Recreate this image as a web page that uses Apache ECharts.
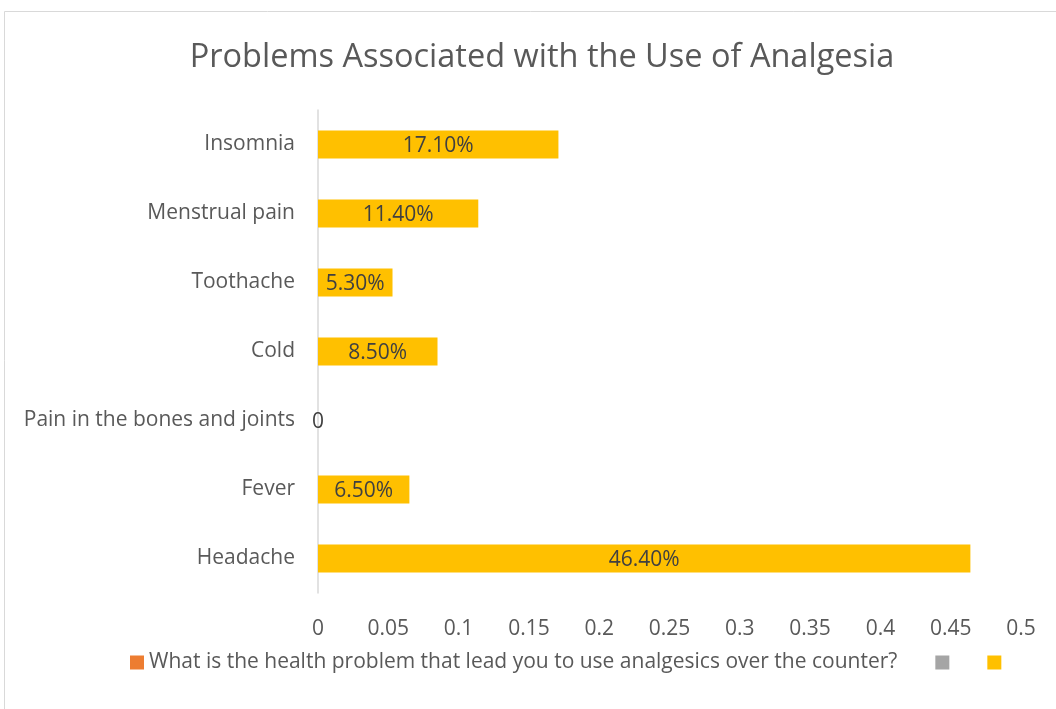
<!DOCTYPE html>
<html>
<head>
<meta charset="utf-8">
<script src="https://cdn.jsdelivr.net/npm/echarts@6/dist/echarts.min.js"></script>
<style>
html,body{margin:0;padding:0;background:#fff;}
#chart{width:1056px;height:709px;}
</style>
</head>
<body>
<div id="chart"></div>
<script>
const categories = ['Headache', 'Fever', 'Pain in the bones and joints', 'Cold', 'Toothache', 'Menstrual pain', 'Insomnia'];
const values = [0.464, 0.065, 0, 0.085, 0.053, 0.114, 0.171];
const xTicks = [0, 0.05, 0.1, 0.15, 0.2, 0.25, 0.3, 0.35, 0.4, 0.45, 0.5];
const seriesNames = ['What is the health problem that lead you to use analgesics over the counter?', 'S2', 'S3'];
const titleText = 'Problems Associated with the Use of Analgesia';

const font = 'Open Sans';
const chart = echarts.init(document.getElementById('chart'));
chart.setOption({
  animation: false,
  backgroundColor: '#ffffff',
  title: {
    text: titleText,
    left: 537, textAlign: 'center', top: 36,
    textStyle: { fontFamily: font, fontSize: 32.5, fontWeight: 'normal', color: '#595959' }
  },
  graphic: [{
    type: 'rect', shape: { x: 4.5, y: 11.5, width: 1200, height: 720 },
    style: { fill: 'none', stroke: '#d9d9d9', lineWidth: 1 }, silent: true, z: -1
  }],
  legend: {
    left: 125, top: 647,
    itemWidth: 14, itemHeight: 14, itemGap: 38,
    icon: 'rect',
    data: seriesNames,
    formatter: function (n) { return n === seriesNames[0] ? n : ''; },
    textStyle: { fontFamily: font, fontSize: 21, color: '#595959' }
  },
  grid: { left: 318, right: 35, top: 110, bottom: 116 },
  xAxis: {
    type: 'value', min: xTicks[0], max: xTicks[xTicks.length - 1], interval: 0.05,
    axisLine: { show: false }, axisTick: { show: false }, splitLine: { show: false },
    axisLabel: { fontFamily: font, fontSize: 21, color: '#595959', margin: 26 }
  },
  yAxis: {
    type: 'category', data: categories,
    axisLine: { show: true, lineStyle: { color: '#d9d9d9', width: 1.5 } },
    axisTick: { show: false },
    axisLabel: { fontFamily: font, fontSize: 21, color: '#595959', margin: 23, padding: [6, 0, 0, 0] }
  },
  series: [
    { name: seriesNames[0], type: 'bar', data: [], itemStyle: { color: '#ED7D31' }, barWidth: 28, barGap: '-100%' },
    { name: seriesNames[1], type: 'bar', data: [], itemStyle: { color: '#A5A5A5' }, barWidth: 28, barGap: '-100%' },
    {
      name: seriesNames[2], type: 'bar', data: values, itemStyle: { color: '#FFC000' }, barWidth: 28, barGap: '-100%',
      label: {
        show: true, position: 'inside', offset: [0, 2], fontFamily: font, fontSize: 21, color: '#404040',
        formatter: function (p) { return p.value === 0 ? '0' : (p.value * 100).toFixed(2) + '%'; }
      }
    }
  ]
});
</script>
</body>
</html>
